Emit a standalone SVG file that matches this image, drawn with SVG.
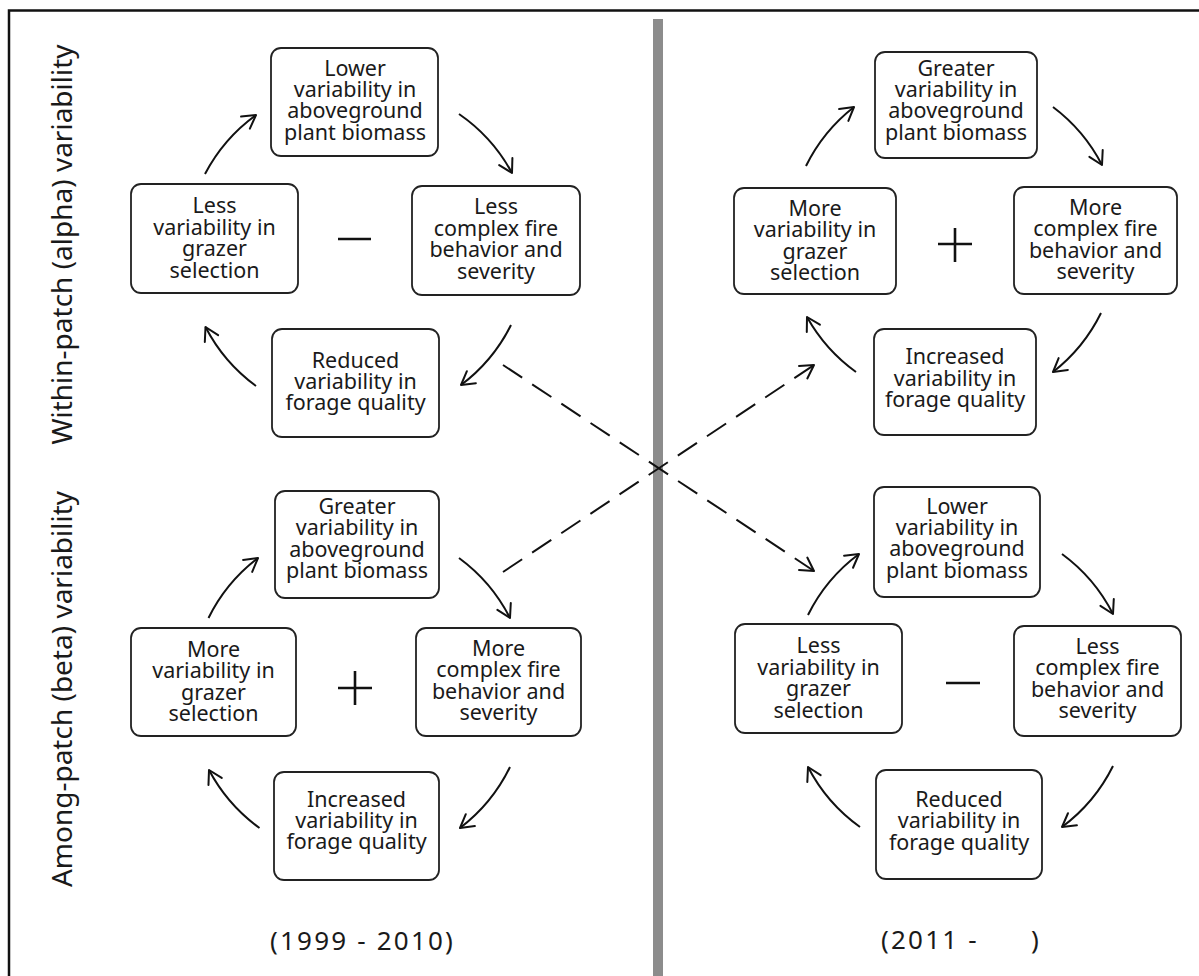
<svg xmlns="http://www.w3.org/2000/svg" width="1199" height="976" viewBox="0 0 1199 976">
<style>
.box rect{fill:#fff;stroke:#222;stroke-width:1.8}
.box text{font-family:"Noto Sans","DejaVu Sans",sans-serif;font-size:21.5px;fill:#1a1a1a;text-anchor:middle}
.arc{fill:none;stroke:#111;stroke-width:2;marker-end:url(#ah)}
.dash{fill:none;stroke:#111;stroke-width:2;stroke-dasharray:23 12;marker-end:url(#ah)}
.sign{stroke:#111;stroke-width:2.6;fill:none}
.side{font-family:"Noto Sans","DejaVu Sans",sans-serif;font-size:28px;fill:#1a1a1a;text-anchor:middle}
.year{font-family:"Noto Sans","DejaVu Sans",sans-serif;font-size:26px;fill:#1a1a1a;letter-spacing:2.2px}
</style>
<defs>
<marker id="ah" markerUnits="userSpaceOnUse" markerWidth="24" markerHeight="24" viewBox="-18 -12 24 24" refX="0" refY="0" orient="auto">
<path d="M-13,-7.5 L0,0 L-13,7.5" fill="none" stroke="#111" stroke-width="2" stroke-linecap="round" stroke-linejoin="round"/>
</marker>
</defs>
<rect x="0" y="0" width="1199" height="976" fill="#fff"/>
<rect x="9" y="10.5" width="1200" height="1000" fill="none" stroke="#111" stroke-width="2.5"/>
<rect id="divider" x="653" y="19" width="10" height="957" fill="#8c8c8c"/>

<text class="side" transform="translate(72,244.5) rotate(-90)">Within-patch (alpha) variability</text>
<text class="side" transform="translate(72,689) rotate(-90)">Among-patch (beta) variability</text>
<text class="year" x="270" y="950">(1999 - 2010)</text>
<text class="year" x="881" y="949">(2011 -<tspan x="1031">)</tspan></text>

<!-- Top-left cycle -->
<g id="tl-top" class="box"><rect x="271" y="48" width="167" height="108" rx="10"/><text x="355" y="75.5">Lower</text><text x="355" y="97">variability in</text><text x="355" y="118.3">aboveground</text><text x="355" y="139.6">plant biomass</text></g>
<g id="tl-left" class="box"><rect x="131" y="184" width="167" height="109" rx="10"/><text x="214.5" y="213">Less</text><text x="214.5" y="234.6">variability in</text><text x="214.5" y="256">grazer</text><text x="214.5" y="277.6">selection</text></g>
<g id="tl-right" class="box"><rect x="412" y="186" width="168" height="109" rx="10"/><text x="496" y="214">Less</text><text x="496" y="235.5">complex fire</text><text x="496" y="257">behavior and</text><text x="496" y="278.5">severity</text></g>
<g id="tl-bottom" class="box"><rect x="272" y="329" width="167" height="108" rx="10"/><text x="355.5" y="367.6">Reduced</text><text x="355.5" y="389">variability in</text><text x="355.5" y="410.4">forage quality</text></g>
<g id="tl-sign"><line class="sign" x1="338" y1="239" x2="371" y2="239" stroke-width="3"/></g>

<!-- Top-right cycle -->
<g id="tr-top" class="box"><rect x="875" y="52" width="162" height="106" rx="10"/><text x="956" y="76">Greater</text><text x="956" y="97.2">variability in</text><text x="956" y="118.4">aboveground</text><text x="956" y="139.6">plant biomass</text></g>
<g id="tr-left" class="box"><rect x="734" y="188" width="162" height="106" rx="10"/><text x="815" y="216">More</text><text x="815" y="237.3">variability in</text><text x="815" y="258.6">grazer</text><text x="815" y="280">selection</text></g>
<g id="tr-right" class="box"><rect x="1014" y="187" width="163" height="107" rx="10"/><text x="1095.5" y="215">More</text><text x="1095.5" y="236.4">complex fire</text><text x="1095.5" y="257.8">behavior and</text><text x="1095.5" y="279.2">severity</text></g>
<g id="tr-bottom" class="box"><rect x="874" y="329" width="162" height="106" rx="10"/><text x="955" y="364.3">Increased</text><text x="955" y="385.7">variability in</text><text x="955" y="407">forage quality</text></g>
<g id="tr-sign"><line class="sign" x1="938" y1="244" x2="972" y2="244"/><line class="sign" x1="955" y1="228" x2="955" y2="262"/></g>

<!-- Bottom-left cycle -->
<g id="bl-top" class="box"><rect x="275" y="491" width="164" height="107" rx="10"/><text x="357" y="514">Greater</text><text x="357" y="535.4">variability in</text><text x="357" y="556.8">aboveground</text><text x="357" y="578.2">plant biomass</text></g>
<g id="bl-left" class="box"><rect x="131" y="628" width="165" height="108" rx="10"/><text x="213.5" y="657">More</text><text x="213.5" y="678.4">variability in</text><text x="213.5" y="699.8">grazer</text><text x="213.5" y="721.2">selection</text></g>
<g id="bl-right" class="box"><rect x="416" y="628" width="165" height="108" rx="10"/><text x="498.5" y="656">More</text><text x="498.5" y="677.4">complex fire</text><text x="498.5" y="698.8">behavior and</text><text x="498.5" y="720.2">severity</text></g>
<g id="bl-bottom" class="box"><rect x="274" y="772" width="165" height="108" rx="10"/><text x="356.5" y="806.7">Increased</text><text x="356.5" y="828">variability in</text><text x="356.5" y="849.4">forage quality</text></g>
<g id="bl-sign"><line class="sign" x1="338" y1="688" x2="372" y2="688"/><line class="sign" x1="355" y1="671" x2="355" y2="705"/></g>

<!-- Bottom-right cycle -->
<g id="br-top" class="box"><rect x="874" y="487" width="166" height="110" rx="10"/><text x="957" y="513.5">Lower</text><text x="957" y="535">variability in</text><text x="957" y="556.4">aboveground</text><text x="957" y="577.8">plant biomass</text></g>
<g id="br-left" class="box"><rect x="735" y="624" width="167" height="109" rx="10"/><text x="818.5" y="653">Less</text><text x="818.5" y="674.5">variability in</text><text x="818.5" y="696">grazer</text><text x="818.5" y="717.5">selection</text></g>
<g id="br-right" class="box"><rect x="1014" y="626" width="167" height="110" rx="10"/><text x="1097.5" y="653.5">Less</text><text x="1097.5" y="675">complex fire</text><text x="1097.5" y="696.5">behavior and</text><text x="1097.5" y="718">severity</text></g>
<g id="br-bottom" class="box"><rect x="876" y="770" width="166" height="109" rx="10"/><text x="959" y="806.7">Reduced</text><text x="959" y="828.1">variability in</text><text x="959" y="849.5">forage quality</text></g>
<g id="br-sign"><line class="sign" x1="946" y1="683" x2="980" y2="683" stroke-width="3"/></g>

<g id="connectors">
<path class="arc" d="M205,174 A170,170 0 0 1 256,115"/>
<path class="arc" d="M459,114 A170,170 0 0 1 512,173"/>
<path class="arc" d="M511,325 A170,170 0 0 1 461,385"/>
<path class="arc" d="M256,386 A170,170 0 0 1 205.5,327"/>

<path class="arc" d="M806,166 A170,170 0 0 1 854,107"/>
<path class="arc" d="M1053,107 A170,170 0 0 1 1102,165"/>
<path class="arc" d="M1101,313 A170,170 0 0 1 1053,372"/>
<path class="arc" d="M856,372 A170,170 0 0 1 807,317"/>

<path class="arc" d="M208.5,618 A170,170 0 0 1 258,558"/>
<path class="arc" d="M459,558 A170,170 0 0 1 510,618"/>
<path class="arc" d="M510,767 A170,170 0 0 1 460,828"/>
<path class="arc" d="M259.5,828 A170,170 0 0 1 209,770"/>

<path class="arc" d="M808,615 A170,170 0 0 1 859,554"/>
<path class="arc" d="M1062,554 A170,170 0 0 1 1113,614"/>
<path class="arc" d="M1113,766 A170,170 0 0 1 1062,827"/>
<path class="arc" d="M860,827 A170,170 0 0 1 808,767"/>

<path class="dash" d="M503,365 L814,571"/>
<path class="dash" d="M503,572 L814,365"/>
</g>
</svg>
